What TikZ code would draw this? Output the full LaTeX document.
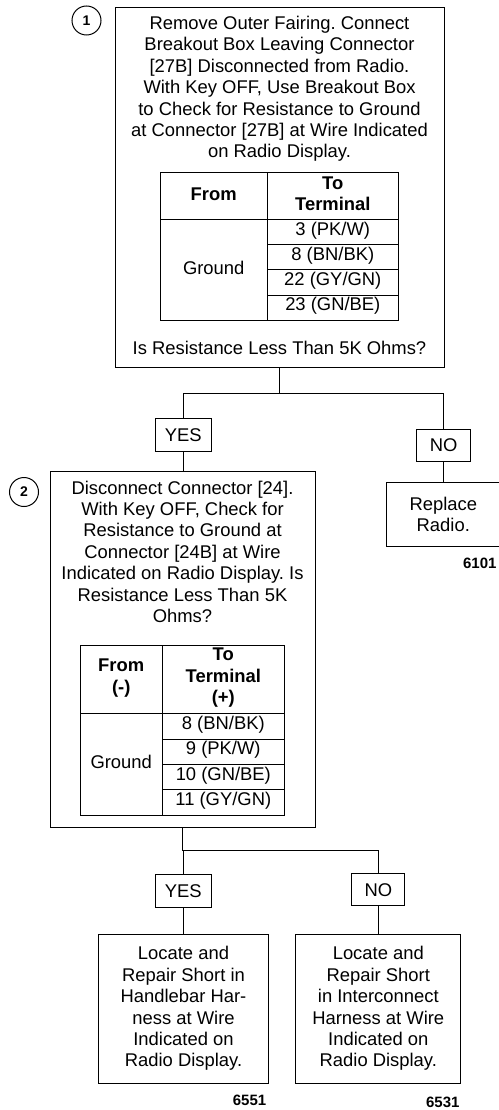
\documentclass[tikz,border=0pt]{standalone}
\usepackage{fontspec}
\setmainfont{Liberation Sans}
\frenchspacing

\begin{document}
\begin{tikzpicture}[x=1pt, y=-1pt, line width=1pt]
\useasboundingbox (0,0) rectangle (498,1110);

\tikzstyle{every node}=[inner sep=0pt, align=center, font=\fontsize{18.4}{21.4}\selectfont]
\tikzstyle{stepbox}=[draw, rectangle]
\tikzstyle{answer}=[draw, rectangle, minimum width=56, minimum height=33]
\tikzstyle{stepnum}=[draw, circle, minimum size=29, font=\fontsize{14}{14}\selectfont\bfseries]
\tikzstyle{code}=[anchor=east, font=\fontsize{15}{15}\selectfont\bfseries]

% step boxes
\node[stepbox, minimum width=329, minimum height=360] (box1) at (279.7, 187.7) {};
\node[stepbox, minimum width=265, minimum height=356] (box2) at (182.7, 649.7) {};
\node[stepbox, minimum width=113, minimum height=64] (replace) at (443.3, 514.3) {Replace\\Radio.};
\node[stepbox, minimum width=170, minimum height=149] (handlebar) at (183.5, 1008.7)
  {Locate and\\Repair Short in\\Handlebar Har-\\ness at Wire\\Indicated on\\Radio Display.};
\node[stepbox, minimum width=165, minimum height=149] (interconnect) at (378.3, 1008.7)
  {Locate and\\Repair Short\\in Interconnect\\Harness at Wire\\Indicated on\\Radio Display.};

\node[stepnum] (num1) at (86.5, 20.5) {1};
\node[stepnum] (num2) at (24, 492) {2};

% step 1 text
\node (text1) at (279.5, 89)
  {Remove Outer Fairing. Connect\\Breakout Box Leaving Connector\\{}[27B] Disconnected from Radio.\\With Key OFF, Use Breakout Box\\to Check for Resistance to Ground\\at Connector [27B] at Wire Indicated\\on Radio Display.};
\node (ask1) at (279.5, 347.7) {Is Resistance Less Than 5K Ohms?};

% table 1
\draw (160,172.3) rectangle (398.3,320);
\draw (267.3,172.3) -- (267.3,320);
\draw (160,219) -- (398.3,219);
\foreach \y in {244.3, 269.3, 295}
  \draw (267.3,\y) -- (398.3,\y);
\node[font=\fontsize{18.4}{21}\selectfont\bfseries] (from1) at (213.7, 194) {From};
\node[font=\fontsize{18.4}{21}\selectfont\bfseries] (to1) at (332.8, 194) {To\\Terminal};
\node (ground1) at (213.7, 268) {Ground};
\node (pin3) at (332.8, 230.5) {3 (PK/W)};
\node (pin8) at (332.8, 255.5) {8 (BN/BK)};
\node (pin22) at (332.8, 280.5) {22 (GY/GN)};
\node (pin23) at (332.8, 306) {23 (GN/BE)};

% step 2 text
\node (text2) at (182.5, 551.7)
  {Disconnect Connector [24].\\With Key OFF, Check for\\Resistance to Ground at\\Connector [24B] at Wire\\Indicated on Radio Display. Is\\Resistance Less Than 5K\\Ohms?};

% table 2
\draw (80,645.7) rectangle (284.3,815);
\draw (162.3,645.7) -- (162.3,815);
\draw (80,713.3) -- (284.3,713.3);
\foreach \y in {739, 764.3, 789.7}
  \draw (162.3,\y) -- (284.3,\y);
\node[font=\fontsize{18.4}{21.5}\selectfont\bfseries] (from2) at (121.2, 678) {From\\(-)};
\node[font=\fontsize{18.4}{21.5}\selectfont\bfseries] (to2) at (223.3, 678) {To\\Terminal\\(+)};
\node (ground2) at (121.2, 762) {Ground};
\node (pin8b) at (223.3, 724.5) {8 (BN/BK)};
\node (pin9) at (223.3, 750) {9 (PK/W)};
\node (pin10) at (223.3, 775.5) {10 (GN/BE)};
\node (pin11) at (223.3, 800.5) {11 (GY/GN)};

% answers
\node[answer] (yes1) at (183.3, 434.8) {YES};
\node[answer, minimum width=54, minimum height=32] (no1) at (443.7, 445) {NO};
\node[answer] (yes2) at (183.3, 890.8) {YES};
\node[answer, minimum width=53, minimum height=32] (no2) at (378.3, 889.8) {NO};

\node[code] (c6101) at (497, 563.3) {6101};
\node[code] (c6551) at (266.7, 1100) {6551};
\node[code] (c6531) at (460, 1102.3) {6531};

% connectors
\path (box1.south) ++(0,25) coordinate (fork1);
\draw (box1.south) -- (fork1) -| (yes1.north);
\draw (fork1) -| (no1.north);
\draw (yes1.south) -- (yes1.south |- box2.north);
\draw (no1.south) -- (no1.south |- replace.north);

\path (box2.south) ++(0,22.3) coordinate (fork2);
\draw (box2.south) -- (fork2) -| (yes2.north);
\draw (fork2) -| (no2.north);
\draw (yes2.south) -- (yes2.south |- handlebar.north);
\draw (no2.south) -- (no2.south |- interconnect.north);

\end{tikzpicture}
\end{document}
